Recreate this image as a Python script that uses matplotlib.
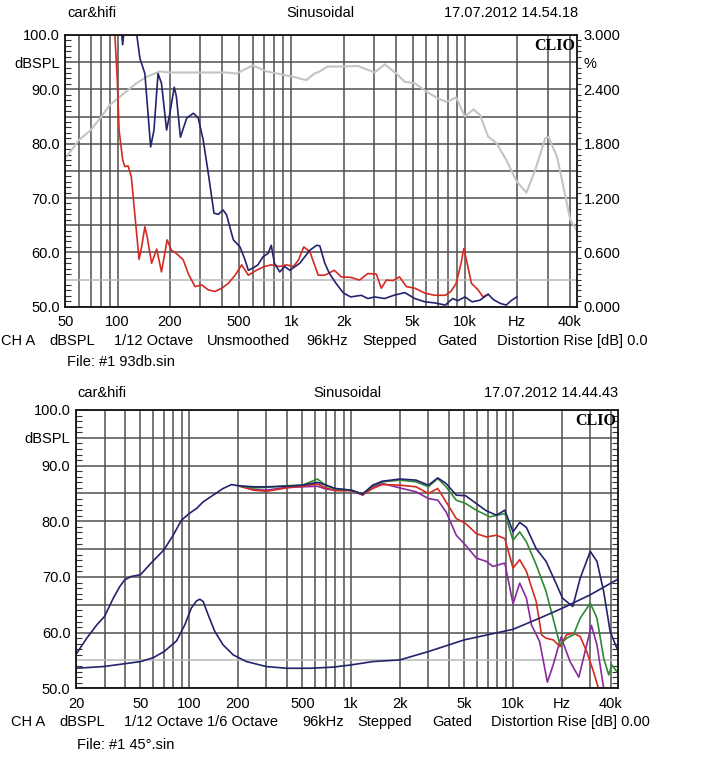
import matplotlib
matplotlib.use("Agg")
import matplotlib.pyplot as plt
from matplotlib.ticker import FixedLocator, NullFormatter

plt.rcParams['font.family'] = ['Liberation Sans', 'DejaVu Sans']
plt.rcParams['font.size'] = 10.5

W, H = 701, 778

# ---------- top chart: response + harmonic distortion ----------
top_spl_f = [50, 60, 70, 80, 90, 100, 128, 147, 175, 200, 273, 424, 484, 600, 722,
             1026, 1220, 1360, 1460, 1620, 2000, 2420, 3020, 3450, 4030, 4500, 5150,
             6000, 7000, 7840, 8900, 10000, 11200, 12200, 13600, 15200, 17300, 19900,
             22600, 25400, 29000, 30300, 33900, 37900, 40400, 44000]
top_spl = [77.3, 80.7, 82.5, 84.8, 87.1, 88.3, 91.1, 92.3, 93.3, 93.1, 93.1, 93.1, 92.9,
           94.4, 93.3, 92.3, 91.7, 92.9, 93.3, 94.2, 94.2, 94.3, 93.1, 94.6, 92.9, 91.4,
           91.1, 89.6, 88.3, 87.7, 88.5, 85.0, 86.3, 85.3, 81.3, 80.1, 77.0, 73.0, 71.0,
           75.2, 81.0, 81.2, 77.6, 70.3, 66.0, 64.1]

top_h2_f = [100, 105, 107, 109, 118, 126, 129, 134.5, 143.6, 155, 162, 171, 179, 191.5,
            200, 212, 218, 230, 250, 273, 291, 311, 333, 359, 380, 405, 424, 464, 507,
            542, 566, 600, 643, 688, 735, 767, 800, 858, 917, 980, 1120, 1280, 1400,
            1460, 1560, 1660, 1810, 2000, 2200, 2530, 2760, 3020, 3450, 3900, 4500,
            5150, 5870, 6700, 7700, 8500, 9100, 10000, 11000, 12200, 13600, 14600,
            16000, 17300, 18600, 19900]
top_h2 = [104, 101, 98.2, 101, 103, 101, 100, 95.7, 92.9, 79.4, 82.5, 92.9, 91.1, 82.5,
          85.6, 90.4, 88.7, 81.2, 84.7, 85.6, 84.8, 80.7, 74.5, 67.2, 67.0, 67.8, 66.9,
          62.3, 61.0, 58.6, 56.7, 57.1, 57.7, 59.2, 59.8, 61.3, 58.0, 56.4, 57.4, 56.7,
          58.0, 60.4, 61.3, 61.2, 58.0, 56.1, 54.3, 52.5, 51.8, 52.1, 51.5, 51.8, 51.5,
          52.1, 52.6, 51.5, 50.9, 50.7, 50.3, 51.5, 51.1, 51.8, 50.9, 51.2, 52.3, 51.3,
          50.6, 50.3, 51.2, 51.8]

top_h3_f = [94, 96.5, 99.6, 102, 107, 110, 115, 120, 126, 133, 137.5, 143.6, 148, 157,
            168, 179, 193, 204, 218, 239, 255, 279, 305, 333, 364, 398, 434, 475, 518,
            566, 630, 700, 767, 858, 939, 1030, 1100, 1180, 1280, 1430, 1560, 1770,
            1940, 2200, 2470, 2760, 3090, 3300, 3530, 3850, 4200, 4600, 5150, 5870,
            6700, 7700, 8300, 8900, 9500, 9850, 10200, 10900, 11900, 12700, 13600]
top_h3 = [104, 100, 91.7, 82.5, 77.0, 75.8, 75.9, 73.9, 66.6, 58.7, 61.0, 64.7, 62.9,
          58.0, 60.6, 56.4, 62.3, 60.4, 59.8, 58.6, 56.1, 53.7, 54.0, 53.1, 52.8, 53.4,
          54.3, 55.8, 57.7, 55.8, 56.7, 57.4, 57.7, 57.4, 57.7, 57.4, 58.6, 61.0, 60.1,
          55.8, 55.8, 56.7, 55.5, 55.4, 54.9, 56.1, 56.0, 53.4, 54.9, 54.8, 55.5, 53.7,
          53.4, 52.5, 52.1, 52.1, 52.8, 54.3, 58.0, 60.7, 58.6, 54.3, 53.1, 51.8, 52.3]

# ---------- bottom chart: off-axis responses + impedance ----------
bot_0_f = [20, 23.3, 26.9, 30, 34, 37.3, 40, 43.9, 50, 54.5, 60, 70, 79.6, 89.6, 100,
           111, 122, 140.6, 162, 182.5, 200, 250, 300, 400, 500, 620, 700, 800, 1000,
           1180, 1360, 1560, 2000, 2520, 3000, 3430, 3860, 4460, 5100, 5930, 6840, 7900,
           8900, 10000, 11000, 12100, 13900, 16000, 18600, 20200, 21400, 23400, 26000,
           30000, 33000, 36300, 39800, 43800]
bot_0 = [56.1, 59.0, 61.4, 62.9, 66.2, 68.3, 69.5, 70.1, 70.4, 71.6, 72.9, 74.9, 77.5,
         80.2, 81.4, 82.3, 83.5, 84.7, 85.9, 86.6, 86.4, 86.2, 86.2, 86.3, 86.5, 87.0,
         86.5, 85.9, 85.6, 84.9, 86.5, 87.2, 87.6, 87.4, 86.5, 87.8, 86.8, 84.7, 84.6,
         83.2, 81.9, 81.1, 82.0, 78.1, 79.8, 78.9, 75.1, 72.8, 68.6, 66.2, 65.6, 64.7,
         69.8, 74.6, 72.8, 67.4, 60.2, 57.2]

bot_15_f = [200, 250, 300, 400, 500, 620, 700, 800, 1000, 1180, 1360, 1560, 2000, 2520,
            3000, 3430, 3860, 4460, 5100, 5930, 7200, 8900, 10000, 11000, 12100, 13900,
            16000, 18100, 19500, 21400, 23600, 26000, 30000, 33000, 36300, 39000, 40700,
            43800]
bot_15 = [86.4, 86.0, 86.1, 86.4, 86.5, 87.6, 86.4, 85.8, 85.6, 84.9, 86.4, 87.1, 87.4,
          87.1, 86.2, 87.7, 86.2, 83.8, 83.2, 82.0, 80.8, 81.4, 76.6, 78.1, 76.3, 72.2,
          67.4, 61.4, 57.8, 59.0, 59.6, 62.6, 65.3, 62.6, 55.4, 52.4, 54.2, 53.0]

bot_30_f = [200, 250, 300, 400, 500, 620, 700, 800, 1000, 1180, 1360, 1560, 2000, 2520,
            3000, 3430, 3860, 4460, 5100, 5930, 6840, 7900, 8900, 10000, 11000, 12100,
            13900, 15000, 16000, 17700, 19500, 21400, 23600, 26000, 28500, 31400, 33700]
bot_30 = [86.4, 85.6, 85.4, 86.0, 86.3, 86.7, 86.0, 85.5, 85.5, 84.8, 85.9, 86.6, 86.5,
          86.2, 85.0, 85.9, 83.5, 80.5, 79.6, 77.8, 77.2, 77.5, 76.9, 71.6, 73.1, 71.0,
          65.6, 59.6, 59.0, 58.7, 57.5, 59.6, 59.9, 59.3, 56.6, 53.0, 50.0]

bot_45_f = [200, 250, 300, 400, 500, 620, 700, 800, 1000, 1180, 1360, 1560, 2000, 2520,
            3000, 3430, 3860, 4460, 5100, 5930, 6840, 7500, 8900, 10000, 11000, 12100,
            13000, 14600, 16300, 17700, 19800, 22500, 25500, 28500, 30500, 33000, 36300]
bot_45 = [86.4, 85.7, 85.6, 86.1, 86.2, 86.3, 85.8, 85.6, 85.6, 84.7, 86.2, 86.8, 86.0,
          85.3, 84.1, 83.8, 81.7, 77.5, 75.7, 73.4, 72.8, 71.9, 72.5, 65.2, 68.9, 66.2,
          61.4, 58.4, 51.1, 54.2, 59.2, 54.8, 52.0, 57.8, 61.3, 57.8, 50.0]

bot_imp_f = [20, 29.5, 37.3, 50, 60, 70, 83.5, 94, 103, 111, 116.4, 122, 131, 144, 162,
             187, 226, 300, 400, 556, 772, 1000, 1360, 2000, 3000, 5000, 10000, 14600,
             20200, 30000, 43800]
bot_imp = [53.6, 53.9, 54.3, 54.8, 55.5, 56.6, 58.5, 61.4, 64.4, 65.7, 66.0, 65.6, 63.2,
           60.2, 57.8, 56.0, 54.8, 53.9, 53.6, 53.6, 53.8, 54.2, 54.8, 55.1, 56.6, 58.7,
           60.6, 62.6, 64.4, 66.8, 69.5]

top_xticks = [50, 100, 200, 500, 1000, 2000, 5000, 10000, 20000, 40000]
top_xlabels = ['50', '100', '200', '500', '1k', '2k', '5k', '10k', 'Hz', '40k']
bot_xticks = [20, 50, 100, 200, 500, 1000, 2000, 5000, 10000, 20000, 40000]
bot_xlabels = ['20', '50', '100', '200', '500', '1k', '2k', '5k', '10k', 'Hz', '40k']
db_ticks = [50, 55, 60, 65, 70, 75, 80, 85, 90, 95, 100]
db_labels = ['50.0', '', '60.0', '', '70.0', '', '80.0', '', '90.0', 'dBSPL', '100.0']
pct_ticks = [0, 0.6, 1.2, 1.8, 2.4, 2.7, 3.0]
pct_labels = ['0.000', '0.600', '1.200', '1.800', '2.400', '%', '3.000']

NAVY = '#23236e'
RED = '#d42a22'
GREEN = '#2e8a34'
PURPLE = '#8a2aa0'
GRAY = '#c4c4c4'
GRID = '#505050'


def grid_lines(lo, hi):
    out = []
    dec = 1
    while dec < hi:
        for m in range(1, 10):
            v = m * dec
            if lo <= v <= hi:
                out.append(v)
        dec *= 10
    return out


def style_axes(ax, xlim, xticks, xlabels, right_minor=True):
    ax.set_xscale('log')
    ax.set_xlim(*xlim)
    ax.set_ylim(50, 100)
    ax.xaxis.set_major_locator(FixedLocator(xticks))
    ax.set_xticklabels(xlabels)
    ax.xaxis.set_minor_locator(FixedLocator(grid_lines(*xlim)))
    ax.xaxis.set_minor_formatter(NullFormatter())
    ax.set_yticks(db_ticks)
    ax.set_yticklabels(db_labels)
    ax.yaxis.set_minor_locator(FixedLocator(list(range(50, 101))))
    ax.tick_params(axis='x', which='both', length=0, pad=6)
    ax.tick_params(axis='y', which='major', length=0, pad=4)
    ax.tick_params(axis='y', which='minor', direction='in', length=4, width=0.8,
                   left=True, right=right_minor, color='#333333')
    ax.grid(True, which='both', axis='x', color=GRID, lw=1.1)
    ax.grid(True, which='major', axis='y', color=GRID, lw=1.1)
    for v, gl in zip(db_ticks, ax.get_ygridlines()):
        if v == 55:
            gl.set_color('#b8b8b8')
    ax.set_axisbelow(True)
    for s in ax.spines.values():
        s.set_linewidth(1.3)
        s.set_color('#111111')
    ax.text(0.997, 0.99, 'CLIO', transform=ax.transAxes, ha='right', va='top',
            family='Liberation Serif', fontweight='bold', fontsize=11.5)


def px(x, y):
    return x / W, 1 - y / H


fig = plt.figure(figsize=(W / 100, H / 100), dpi=100)

# top chart
ax1 = fig.add_axes([65.3 / W, 1 - 306.7 / H, (576.7 - 65.3) / W, 271.7 / H])
style_axes(ax1, (50, 44000), top_xticks, top_xlabels, right_minor=False)
ax1.plot(top_spl_f, top_spl, color=GRAY, lw=1.5)
ax1.plot(top_h3_f, top_h3, color=RED, lw=1.2)
ax1.plot(top_h2_f, top_h2, color=NAVY, lw=1.2)
ax1r = ax1.twinx()
ax1r.set_ylim(0, 3)
ax1r.set_yticks(pct_ticks)
ax1r.set_yticklabels(pct_labels)
ax1r.yaxis.set_minor_locator(FixedLocator([i * 0.06 for i in range(51)]))
ax1r.tick_params(axis='y', which='major', length=0, pad=5)
ax1r.tick_params(axis='y', which='minor', direction='out', length=3, width=0.8,
                 color='#333333')
for s in ax1r.spines.values():
    s.set_visible(False)

# bottom chart
ax2 = fig.add_axes([76 / W, 1 - 688.3 / H, (618 - 76) / W, 278.3 / H])
style_axes(ax2, (20, 44500), bot_xticks, bot_xlabels)
ax2.plot(bot_45_f, bot_45, color=PURPLE, lw=1.2)
ax2.plot(bot_30_f, bot_30, color=RED, lw=1.2)
ax2.plot(bot_15_f, bot_15, color=GREEN, lw=1.2)
ax2.plot(bot_imp_f, bot_imp, color=NAVY, lw=1.2)
ax2.plot(bot_0_f, bot_0, color=NAVY, lw=1.2)

# header texts
fig.text(*px(67, 13), 'car&hifi', ha='left', va='center')
fig.text(*px(320, 13), 'Sinusoidal', ha='center', va='center')
fig.text(*px(578, 13), '17.07.2012 14.54.18', ha='right', va='center')
fig.text(*px(77, 393), 'car&hifi', ha='left', va='center')
fig.text(*px(347, 393), 'Sinusoidal', ha='center', va='center')
fig.text(*px(618, 393), '17.07.2012 14.44.43', ha='right', va='center')

# footer texts
top_footer = [(1, 'CH A'), (49, 'dBSPL'), (114, '1/12 Octave'), (207, 'Unsmoothed'),
              (306, '96kHz'), (362, 'Stepped'), (437, 'Gated'),
              (497, 'Distortion Rise [dB] 0.0')]
for x, s in top_footer:
    fig.text(*px(x, 341), s, ha='left', va='center')
fig.text(*px(67, 362), 'File: #1 93db.sin', ha='left', va='center')

bot_footer = [(11, 'CH A'), (59, 'dBSPL'), (124, '1/12 Octave'), (207, '1/6 Octave'),
              (302, '96kHz'), (357, 'Stepped'), (432, 'Gated'),
              (491, 'Distortion Rise [dB] 0.00')]
for x, s in bot_footer:
    fig.text(*px(x, 722), s, ha='left', va='center')
fig.text(*px(77, 745), 'File: #1 45°.sin', ha='left', va='center')

fig.savefig('out.png', dpi=100)
